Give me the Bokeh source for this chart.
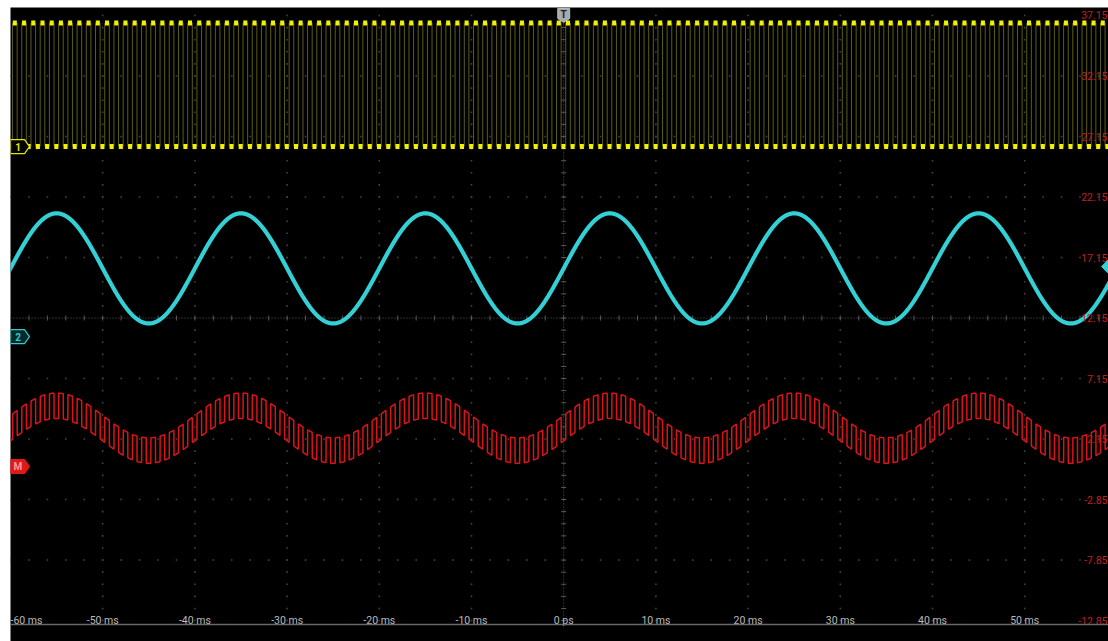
import numpy as np
from bokeh.plotting import figure
from bokeh.models import Range1d, Span
from bokeh.core.properties import value
from bokeh.embed import file_html
from bokeh.resources import INLINE

# ---------------- values ----------------
time_ticks_ms = [-60, -50, -40, -30, -20, -10, 0, 10, 20, 30, 40, 50]
time_tick_labels = ["-60 ms", "-50 ms", "-40 ms", "-30 ms", "-20 ms", "-10 ms",
                    "0 ps", "10 ms", "20 ms", "30 ms", "40 ms", "50 ms"]
level_ticks = [37.15, 32.15, 27.15, 22.15, 17.15, 12.15, 7.15, 2.15, -2.85, -7.85, -12.85]
level_tick_labels = ["37.15", "32.15", "27.15", "22.15", "17.15", "12.15",
                     "7.15", "2.15", "-2.85", "-7.85", "-12.85"]

# channel 1 (yellow): square wave
ch1_period_ms = 1.0
ch1_rise_ms = 0.22          # rising edge position inside each period
ch1_low = 26.32
ch1_high = 36.53
ch1_ref = 26.32             # "1" marker level

# channel 2 (cyan): sine wave, rising mid-crossing at the trigger (0 ms)
ch2_period_ms = 20.0
ch2_offset = 16.25
ch2_amplitude = 4.55
ch2_ref = 10.62             # "2" marker level
trigger_level = 16.40       # trigger marker on the right

# math (red): sine of channel 2 + square of channel 1
math_offset = 3.05
math_sine_amp = 1.85
math_square_amp = 1.05
math_ref = -0.12            # "M" marker level

# ---------------- view window ----------------
X0, X1 = -60.0, 59.09
Y0, Y1 = -14.58, 37.81
FW, FH = 1098, 634
XPP = (X1 - X0) / FW        # ms per pixel
YPP = (Y1 - Y0) / FH        # units per pixel
BOTTOM_LINE = Y0 + 17 * YPP

p = figure(width=1108, height=641, x_range=Range1d(X0, X1), y_range=Range1d(Y0, Y1),
           output_backend="svg", toolbar_location=None,
           x_axis_location=None, y_axis_location=None,
           background_fill_color="black", border_fill_color="white",
           min_border_left=10, min_border_right=0, min_border_top=7, min_border_bottom=0)
p.outline_line_color = None
p.grid.visible = False

FONT = value("Roboto")

# ---------------- graticule ----------------
h_div = 10.0
v_div = 5.0
gx, gy = [], []
for lv in level_ticks[1:-1]:
    if abs(lv - level_ticks[5]) < 1e-6:
        continue
    for t in np.arange(X0, X1, h_div / 5):
        gx.append(t); gy.append(lv)
for tk in time_ticks_ms[1:]:
    if tk == 0:
        continue
    for lv in np.arange(level_ticks[-1], Y1, v_div / 5):
        gx.append(tk); gy.append(lv)
p.scatter(gx, gy, marker="square", size=1.6, color="#444444", line_color=None)

center_level = level_ticks[5]
p.segment(x0=[X0], y0=[center_level], x1=[X1], y1=[center_level],
          line_color="#5a5a5a", line_width=1, line_dash="1 2")
p.segment(x0=[0], y0=[BOTTOM_LINE], x1=[0], y1=[Y1],
          line_color="#5a5a5a", line_width=1, line_dash="1 2")
tx = [t for t in np.arange(X0, X1, h_div / 5)]
p.scatter(tx, [center_level] * len(tx), marker="dash", angle=np.pi / 2, size=5,
          line_color="#5a5a5a", line_width=1)
ty = [lv for lv in np.arange(level_ticks[-1], Y1, v_div / 5)]
p.scatter([0] * len(ty), ty, marker="dash", size=5, line_color="#5a5a5a", line_width=1)

p.add_layout(Span(location=BOTTOM_LINE, dimension="width", line_color="#6a6a6a", line_width=1.5))

# ---------------- traces ----------------
t = np.arange(X0 - 0.5, X1 + 0.5, 0.01)
phase = ((t - ch1_rise_ms) % ch1_period_ms) / ch1_period_ms
sq = np.where(phase < 0.5, 1.0, -1.0)

# channel 1: dim edges + bright level segments
edges = np.arange(np.floor(X0) - 1, X1 + 1, ch1_period_ms) + ch1_rise_ms
all_edges = np.concatenate([edges, edges + 0.5 * ch1_period_ms])
p.segment(x0=all_edges, y0=[ch1_low] * len(all_edges), x1=all_edges,
          y1=[ch1_high] * len(all_edges), line_color="#5c5c18", line_width=1)
inset = 0.03
seg_x0 = np.concatenate([edges + inset, edges + 0.5 * ch1_period_ms + inset])
seg_x1 = np.concatenate([edges + 0.5 * ch1_period_ms - inset, edges + ch1_period_ms - inset])
seg_y = np.concatenate([np.full(len(edges), ch1_high), np.full(len(edges), ch1_low)])
p.segment(x0=seg_x0, y0=seg_y, x1=seg_x1, y1=seg_y, line_color="#f2f200",
          line_width=5, line_cap="butt")

# channel 2: sine
sine = np.sin(2 * np.pi * t / ch2_period_ms)
p.line(t, ch2_offset + ch2_amplitude * sine, line_color="#33d0d6", line_width=4.2)

# math trace
p.line(t, math_offset + math_sine_amp * sine + math_square_amp * sq,
       line_color="#dc1419", line_width=1.5)

# ---------------- tick labels ----------------
p.text(x=[X0], y=[level_ticks[-1]], text=[time_tick_labels[0]], text_font=FONT,
       text_font_size="10.5px", text_color="#bdbdbd", text_align="left",
       text_baseline="middle")
p.text(x=time_ticks_ms[1:], y=[level_ticks[-1]] * (len(time_ticks_ms) - 1),
       text=time_tick_labels[1:], text_font=FONT, text_font_size="10.5px",
       text_color="#bdbdbd", text_align="center", text_baseline="middle")
p.text(x=[X1] * len(level_ticks), y=level_ticks, text=level_tick_labels, text_font=FONT,
       text_font_size="10.5px", text_color="#c41e1e", text_align="right",
       text_baseline="middle", x_offset=-1)

# ---------------- channel markers ----------------
def tag(level, line_c, fill_c, label, text_c):
    px = [0, 14, 19, 14, 0]
    py = [-7, -7, 0, 7, 7]
    xs = [X0 + v * XPP for v in px]
    ys = [level + v * YPP for v in py]
    p.patch(xs, ys, fill_color=fill_c, line_color=line_c, line_width=1.2)
    p.text(x=[X0 + 7.5 * XPP], y=[level], text=[label], text_font=FONT,
           text_font_size="10px", text_font_style="bold", text_color=text_c,
           text_align="center", text_baseline="middle")

tag(ch1_ref, "#e6e600", "#000000", "1", "#e6e600")
tag(ch2_ref, "#33c8cc", "#062a2a", "2", "#33c8cc")
tag(math_ref, "#e01818", "#e01818", "M", "#ff9a9a")

# trigger position marker "T" at the top
tx_pts = [-6, 6, 6, 0, -6]
ty_pts = [-1, -1, -11, -15, -11]
p.patch([0 + v * XPP for v in tx_pts], [Y1 + v * YPP for v in ty_pts],
        fill_color="#a3abb0", line_color="#d0d0d0", line_width=0.8)
p.text(x=[0], y=[Y1 - 7 * YPP], text=["T"], text_font=FONT, text_font_size="10px",
       text_font_style="bold", text_color="#202020", text_align="center",
       text_baseline="middle")

# trigger level marker on the right
rx = [0, -7, 0]
ry = [-7, 0, 7]
p.patch([X1 + v * XPP for v in rx], [trigger_level + v * YPP for v in ry],
        fill_color="#33d0d6", line_color="#33d0d6")

open("out.html", "w").write(file_html(p, INLINE))
